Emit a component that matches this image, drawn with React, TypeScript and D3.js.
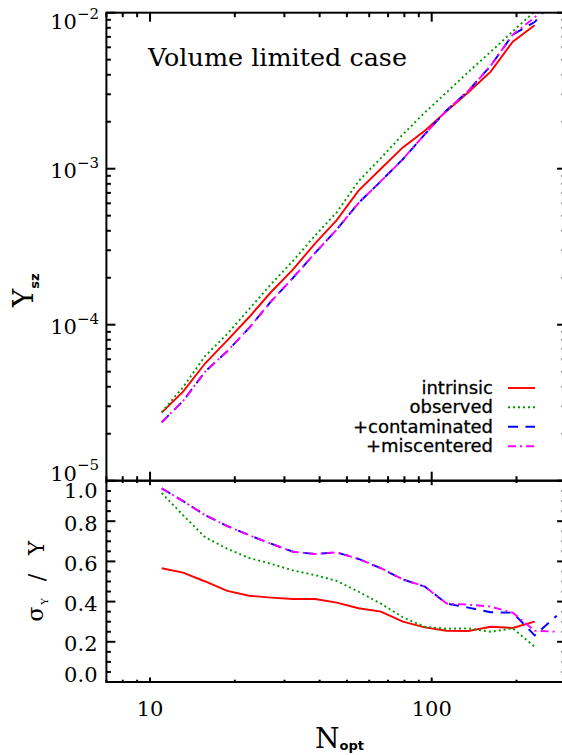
import React from "react";
import * as d3 from "d3";

// Optical richness bins (N_opt)
const nOpt = [11, 13.1, 15.7, 18.8, 22.5, 26.9, 32.2, 38.5, 46, 55, 66, 79, 94.5, 113, 135, 162, 194, 232, 278];

// Mean SZ signal per bin
const ysIntrinsic = [2.73e-5, 3.72e-5, 5.66e-5, 7.94e-5, 1.12e-4, 1.62e-4, 2.26e-4, 3.31e-4, 4.68e-4, 7.24e-4, 1.0e-3, 1.37e-3, 1.75e-3, 2.34e-3, 3.09e-3, 4.19e-3, 6.52e-3, 8.3e-3];
const ysObserved = [2.75e-5, 3.98e-5, 6.31e-5, 8.71e-5, 1.26e-4, 1.82e-4, 2.57e-4, 3.72e-4, 5.25e-4, 8.32e-4, 1.17e-3, 1.66e-3, 2.29e-3, 3.09e-3, 4.17e-3, 5.62e-3, 7.59e-3, 1.02e-2];
const ysContaminated = [2.37e-5, 3.24e-5, 5.01e-5, 6.76e-5, 9.55e-5, 1.41e-4, 2.0e-4, 2.88e-4, 4.07e-4, 6.03e-4, 8.32e-4, 1.15e-3, 1.66e-3, 2.37e-3, 3.16e-3, 4.57e-3, 7.24e-3, 8.71e-3, 1.26e-2];
const ysMiscentered = [2.37e-5, 3.24e-5, 5.01e-5, 6.76e-5, 9.55e-5, 1.41e-4, 2.0e-4, 2.88e-4, 4.07e-4, 6.03e-4, 8.32e-4, 1.15e-3, 1.66e-3, 2.37e-3, 3.16e-3, 4.57e-3, 7.24e-3, 9.33e-3, 1.32e-2];

// Fractional scatter sigma_Y / Y per bin
const sigIntrinsic = [0.566, 0.544, 0.5, 0.453, 0.429, 0.42, 0.413, 0.413, 0.395, 0.367, 0.35, 0.3, 0.272, 0.255, 0.254, 0.275, 0.269, 0.3];
const sigObserved = [0.94, 0.83, 0.72, 0.663, 0.617, 0.588, 0.555, 0.532, 0.503, 0.449, 0.39, 0.322, 0.275, 0.265, 0.267, 0.25, 0.267, 0.175];
const sigContaminated = [0.963, 0.9, 0.83, 0.776, 0.73, 0.688, 0.648, 0.637, 0.645, 0.612, 0.566, 0.51, 0.475, 0.39, 0.37, 0.347, 0.345, 0.232, 0.33];
const sigMiscentered = [0.963, 0.9, 0.83, 0.776, 0.73, 0.688, 0.648, 0.637, 0.645, 0.612, 0.566, 0.51, 0.475, 0.39, 0.385, 0.375, 0.345, 0.255, 0.25];

const seriesNames = ["intrinsic", "observed", "+contaminated", "+miscentered"];
const topExponents = [-5, -4, -3, -2];
const xLabelValues = [10, 100];
const sigLabelValues = [0, 0.2, 0.4, 0.6, 0.8, 1.0];

const styles = [
  { color: "#ff0000", dash: "none" },
  { color: "#009900", dash: "2,3" },
  { color: "#0000ff", dash: "10,7.5" },
  { color: "#ff00ff", dash: "8,4,2,4" },
];

const W = 562;
const H = 755;
const left = 106.4;
const right = 566.1;
const topY = 12.7;
const midY = 480.7;
const botY = 682;

const serif = "'DejaVu Serif', serif";
const sans = "'DejaVu Sans', sans-serif";

export default function App() {
  const x = d3.scaleLog().domain([7, 300]).range([left, right]);
  const yTop = d3.scaleLog().domain([1e-5, 1e-2]).range([midY, topY]);
  const yBot = d3.scaleLinear().domain([0, 1]).range([botY, 481]);

  const topSeries = [ysIntrinsic, ysObserved, ysContaminated, ysMiscentered];
  const botSeries = [sigIntrinsic, sigObserved, sigContaminated, sigMiscentered];

  const lineTop = (vals: number[]) =>
    d3.line<number>().x((_, i) => x(nOpt[i])).y((v) => yTop(v))(vals) || "";
  const lineBot = (vals: number[]) =>
    d3.line<number>().x((_, i) => x(nOpt[i])).y((v) => yBot(v))(vals) || "";

  const isDecade = (v: number) => Math.abs(Math.log10(v) - Math.round(Math.log10(v))) < 1e-9;
  const xTicks = x.ticks().filter((v) => v >= 7 && v <= 300);
  const yTopTicks = yTop.ticks();
  const yBotTicks = d3.range(0, 21).map((i) => i * 0.05);

  const sw = 2;
  const tickEls: React.ReactNode[] = [];
  // x ticks for both panels
  xTicks.forEach((v, i) => {
    const px = x(v);
    const maj = isDecade(v);
    const lt = maj ? 9 : 4.5;
    const lb = maj ? 4.5 : 2.3;
    tickEls.push(<line key={`xt${i}a`} x1={px} x2={px} y1={topY} y2={topY + lt} />);
    tickEls.push(<line key={`xt${i}b`} x1={px} x2={px} y1={midY} y2={midY - lt} />);
    tickEls.push(<line key={`xt${i}c`} x1={px} x2={px} y1={midY} y2={midY + lb} />);
    tickEls.push(<line key={`xt${i}d`} x1={px} x2={px} y1={botY} y2={botY - lb} />);
  });
  yTopTicks.forEach((v, i) => {
    const py = yTop(v);
    const l = isDecade(v) ? 9 : 4.5;
    tickEls.push(<line key={`yt${i}a`} x1={left} x2={left + l} y1={py} y2={py} />);
    tickEls.push(<line key={`yt${i}b`} x1={right} x2={right - l} y1={py} y2={py} />);
  });
  yBotTicks.forEach((v, i) => {
    const py = yBot(v);
    const maj = Math.abs(v * 5 - Math.round(v * 5)) < 1e-9;
    const l = maj ? 9 : 4.5;
    tickEls.push(<line key={`yb${i}a`} x1={left} x2={left + l} y1={py} y2={py} />);
    tickEls.push(<line key={`yb${i}b`} x1={right} x2={right - l} y1={py} y2={py} />);
  });

  // baseline offset for labels at the ends of a vertical axis
  const labelDy = (idx: number, n: number) => (idx === n - 1 ? 16.5 : idx === 0 ? 0 : 9.5);

  const legendBase = [394, 413.3, 432.7, 452.3];

  return (
    <svg
      width={W}
      height={H}
      style={{ position: "absolute", left: 0, top: 0, background: "#fff" }}
    >
      <defs>
        <clipPath id="clipTop">
          <rect x={left} y={topY} width={right - left} height={midY - topY} />
        </clipPath>
        <clipPath id="clipBot">
          <rect x={left} y={midY} width={right - left} height={botY - midY} />
        </clipPath>
      </defs>
      <rect x={0} y={0} width={W} height={H} fill="#fff" />

      {/* curves */}
      <g clipPath="url(#clipTop)" fill="none" strokeWidth={1.9}>
        {topSeries.map((s, i) => (
          <path key={i} d={lineTop(s)} stroke={styles[i].color} strokeDasharray={styles[i].dash} />
        ))}
      </g>
      <g clipPath="url(#clipBot)" fill="none" strokeWidth={1.9}>
        {botSeries.map((s, i) => (
          <path key={i} d={lineBot(s)} stroke={styles[i].color} strokeDasharray={styles[i].dash} />
        ))}
      </g>

      {/* frames and ticks */}
      <g stroke="#000" strokeWidth={sw} fill="none">
        <rect x={left} y={topY} width={right - left} height={midY - topY} />
        <rect x={left} y={midY} width={right - left} height={botY - midY} />
        {tickEls}
      </g>

      {/* tick labels */}
      <g fontFamily={serif} fill="#000">
        {topExponents.map((e, i) => {
          const py = yTop(Math.pow(10, e)) + labelDy(i, topExponents.length);
          return (
            <text key={e} x={99} y={py} textAnchor="end" fontSize={21}>
              10
              <tspan fontSize={15} dy={-10.5}>
                {"\u2212" + Math.abs(e)}
              </tspan>
            </text>
          );
        })}
        {sigLabelValues.map((v, i) => (
          <text
            key={v}
            x={97.5}
            y={yBot(v) + (i === sigLabelValues.length - 1 ? 17 : labelDy(i, sigLabelValues.length))}
            textAnchor="end"
            fontSize={21}
          >
            {v.toFixed(1)}
          </text>
        ))}
        {xLabelValues.map((v) => (
          <text key={v} x={x(v)} y={716} textAnchor="middle" fontSize={21}>
            {String(v)}
          </text>
        ))}
      </g>

      {/* title */}
      <text
        x={148}
        y={66}
        fontFamily={serif}
        fontSize={24}
        fill="#000"
        textLength={259}
        lengthAdjust="spacingAndGlyphs"
      >
        Volume limited case
      </text>

      {/* legend */}
      <g fontFamily={sans} fontSize={18} fill="#000">
        {seriesNames.map((nm, i) => (
          <g key={nm}>
            <text x={493} y={legendBase[i]} textAnchor="end" stroke="#000" strokeWidth={0.3}>
              {nm}
            </text>
            <line
              x1={508}
              x2={535}
              y1={legendBase[i] - 6}
              y2={legendBase[i] - 6}
              stroke={styles[i].color}
              strokeWidth={1.9}
              strokeDasharray={styles[i].dash}
            />
          </g>
        ))}
      </g>

      {/* x axis title */}
      <text x={315} y={748.3} fontFamily={serif} fontSize={28} fill="#000">
        N
        <tspan fontFamily={sans} fontWeight="bold" fontSize={13} dy={2}>
          opt
        </tspan>
      </text>

      {/* y axis titles */}
      <g fontFamily={serif} fill="#000">
        <text transform="translate(33,298) rotate(-90)" textAnchor="middle" fontSize={28}>
          Y
        </text>
        <text
          transform="translate(39,281) rotate(-90)"
          textAnchor="middle"
          fontSize={13}
          fontFamily={sans}
          fontWeight="bold"
        >
          sz
        </text>
        <text transform="translate(42.5,614) rotate(-90)" textAnchor="middle" fontSize={22}>
          σ
        </text>
        <text transform="translate(48,601.5) rotate(-90)" textAnchor="middle" fontSize={10}>
          Y
        </text>
        <text transform="translate(44,577.5) rotate(-90)" textAnchor="middle" fontSize={22}>
          /
        </text>
        <text transform="translate(43.5,548) rotate(-90)" textAnchor="middle" fontSize={22}>
          Y
        </text>
      </g>
    </svg>
  );
}
